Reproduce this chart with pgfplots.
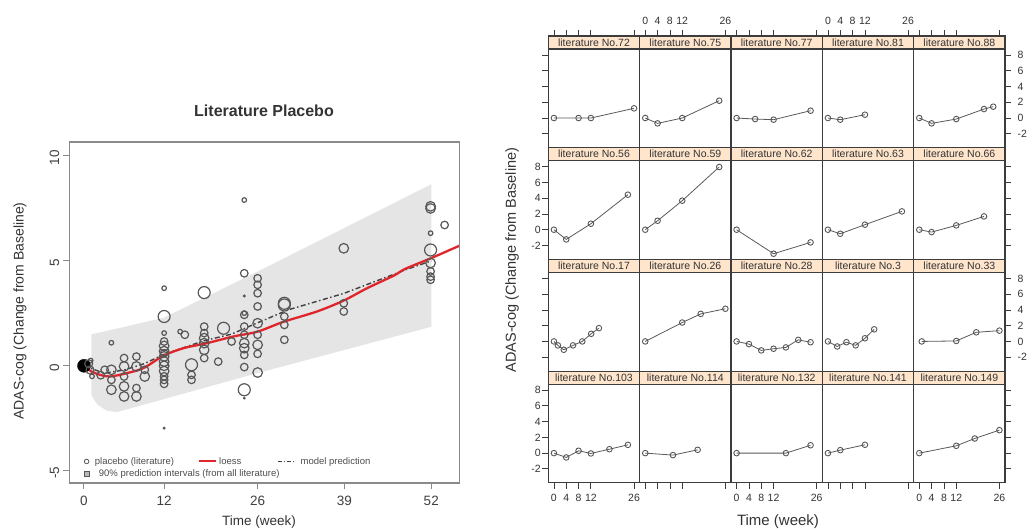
\documentclass[border=0pt]{standalone}
\usepackage{pgfplots}
\pgfplotsset{compat=1.18}
\usepackage{fontspec}
\setmainfont{Liberation Sans}
\definecolor{bandgray}{HTML}{E5E5E5}
\definecolor{ptgray}{HTML}{575757}
\definecolor{loessred}{HTML}{E0252B}
\definecolor{stripbg}{HTML}{FFE5CC}
\definecolor{framegray}{HTML}{8A8A8A}
\definecolor{panelframe}{HTML}{3C3C3C}

\pgfplotsset{
  panel/.style={
    scale only axis, anchor=south west, width=91.34pt, height=111.7pt,
    xmin=-1.82, xmax=27.82, ymin=-3.77, ymax=10.42,
    axis on top,
    xtick={0,4,8,12,26}, ytick={-2,0,2,4,6,8},
    tick align=outside, major tick length=6pt,
    axis line style={panelframe, line width=1.2pt},
    tick style={panelframe, line width=0.8pt},
    ticklabel style={font=\fontsize{10.5}{12}\selectfont, text=black!80, inner sep=1.5pt},
    /pgf/number format/assume math mode=true,
  },
  xt/.style={xtick pos=right, xticklabel pos=right, xticklabel style={yshift=4pt}},
  xtn/.style={xtick pos=right, xticklabel pos=right, xticklabel style={opacity=0}},
  xb/.style={xtick pos=left, xticklabel pos=left, xticklabel style={yshift=-4pt}},
  xbn/.style={xtick pos=left, xticklabel pos=left, xticklabel style={opacity=0}},
  xnone/.style={xtick=\empty},
  yl/.style={ytick pos=left, yticklabel pos=left},
  yln/.style={ytick pos=left, yticklabel pos=left, yticklabel style={opacity=0}},
  yr/.style={ytick pos=right, yticklabel pos=right, yticklabel style={xshift=5pt}},
  yrn/.style={ytick pos=right, yticklabel pos=right, yticklabel style={opacity=0}},
  ynone/.style={ytick=\empty},
}
\newcommand{\litpanel}[4]{%
\begin{axis}[panel, at={(#1)}, #2]
\fill[stripbg] (axis cs:-1.82,8.77) rectangle (axis cs:27.82,10.42);
\draw[panelframe, line width=1.1pt] (axis cs:-1.82,8.77) -- (axis cs:27.82,8.77);
\node[font=\fontsize{10.5}{12}\selectfont, text=black!80] at (axis cs:13,9.6) {#3};
\addplot[black!65, line width=0.8pt, mark=o, mark size=2.8pt, mark options={ptgray, line width=0.9pt, solid}] coordinates {#4};
\end{axis}}

\begin{document}
\begin{tikzpicture}[x=1pt,y=1pt]
\path[use as bounding box] (0pt,0pt) rectangle (1032pt,531pt);

% ---------------- left panel ----------------
\begin{axis}[
  at={(69.3pt,48.3pt)}, anchor=south west, scale only axis, width=390pt, height=341pt,
  xmin=-2.2, xmax=56.2, ymin=-5.57, ymax=10.68,
  axis on top,
  axis line style={framegray, line width=1.6pt},
  tick pos=left, tick align=outside, major tick length=6.5pt,
  tick style={framegray, line width=1pt},
  xtick={0,12,26,39,52}, ytick={-5,0,5,10},
  ticklabel style={font=\fontsize{13.5}{15}\selectfont, text=black!75},
  xticklabel style={yshift=-3pt},
  yticklabel style={rotate=90, anchor=south, xshift=-2pt},
  /pgf/number format/assume math mode=true,
  legend columns=3,
  legend cell align=left,
  legend style={draw=none, fill=none, at={(0.038,0.081)}, anchor=north west,
     font=\fontsize{9.5}{11}\selectfont, text=black!70, inner sep=0pt, row sep=0pt,
     /tikz/column 2/.style={column sep=22pt}, /tikz/column 4/.style={column sep=34pt}},
]
% prediction band
\addplot[fill=bandgray, draw=none, forget plot] coordinates {
(1.1,1.5) (6,1.85) (12,2.3) (25.6,4.43) (52,8.65) (52,1.86) (25.6,-0.38) (5,-2.2) (3.5,-2.15) (2,-1.85) (1.1,-1.4)} -- cycle;
% small circles
\addplot[only marks, mark=o, mark size=2.3pt, ptgray, line width=1.2pt, forget plot] coordinates {
(4.1,1.1) (12,3.7) (12,1.56) (14.4,1.63) (24,7.9) (51.9,6.32) (1.2,-0.5) (1,0.25) (24,2.51)};
% medium circles
\addplot[only marks, mark=o, mark size=3.8pt, ptgray, line width=1.2pt, forget plot] coordinates {
(3.1,-0.19) (2.5,-0.45) (4.1,-0.67) (6,0.37) (6,-0.51) (7.85,0.44) (7.85,-1.06) (9.1,-0.19)
(12,1.16) (12,-0.5) (12,-0.67) (12,-0.86) (12,0.6) (15.1,1.48) (16.1,-0.43) (16.1,-0.67)
(18,1.87) (18,1.56) (18,0.37) (20.1,0.2) (22.1,1.16) (24,4.41) (24,2.43) (24,1.87) (24,1.48)
(24,0.52) (24,-0.06) (26,3.46) (26,2.83) (26,1.48) (26,0.57) (30,2.35) (30,1.24) (30,1.95)
(38.9,2.98) (38.9,2.59) (51.9,4.5) (51.9,4.25) (51.9,4.1) (54,6.71) (26,3.86) (26,4.17)};
% large circles
\addplot[only marks, mark=o, mark size=4.8pt, ptgray, line width=1.2pt, forget plot] coordinates {
(4.1,-0.19) (4.1,-1.14) (6,-0.03) (6,-0.98) (6,-1.46) (7.85,-0.03) (7.85,-1.46) (9.1,-0.51)
(12,0.95) (12,0.7) (12,0.45) (12,0.2) (12,0) (12,-0.25) (18,1.32) (18,1.08) (18,0.76)
(24,1.08) (24,0.84) (26,1.0) (26,-0.32) (38.9,5.6) (51.9,7.5) (51.9,7.6) (51.9,4.9) (26,2.03)};
% extra large circles
\addplot[only marks, mark=o, mark size=6pt, ptgray, line width=1.2pt, forget plot] coordinates {
(12,2.35) (16.1,0.05) (18,3.49) (20.9,1.79) (24,-1.14) (30,2.98) (51.9,5.52) (30,2.9)};
% tiny dots
\addplot[only marks, mark=*, mark size=1.3pt, ptgray, forget plot] coordinates {
(12,-2.97) (24,3.33) (24,-1.54)};
% baseline blob
\addplot[only marks, mark=*, mark size=6.5pt, black, forget plot] coordinates {(0,0)};
\addplot[only marks, mark=o, mark size=4pt, ptgray, line width=1.2pt, forget plot] coordinates {(0.7,0.1) (0.9,-0.2)};
% model prediction
\addplot[black!75, dash pattern=on 5pt off 2.5pt on 1.5pt off 2.5pt, line width=1.4pt, forget plot] coordinates {
(0,0) (3,-0.35) (6,-0.2) (9,0.1) (12,0.55) (18,1.2) (22,1.5) (26,2.05) (30.6,2.67) (38.9,3.45) (48.1,4.57) (52,5.0)};
% loess
\addplot[loessred, line width=2.3pt, smooth, forget plot] coordinates {
(0,0) (1,-0.25) (2.4,-0.43) (3.9,-0.51) (6.4,-0.35) (8.9,-0.11) (11.9,0.48) (14.9,0.84) (18.4,1.08)
(22.4,1.4) (26,1.63) (29.9,2.1) (34.9,2.59) (38.9,3.11) (42.4,3.7) (46.4,4.3) (48.1,4.62) (51.9,5.12) (56.2,5.72)};
% legend
\addlegendimage{only marks, mark=o, mark size=2.3pt, ptgray, line width=0.8pt}
\addlegendentry{\hspace{4pt}placebo (literature)}
\addlegendimage{loessred, line width=2pt}
\addlegendentry{loess}
\addlegendimage{black!75, dash pattern=on 4pt off 2pt on 1.2pt off 2pt, line width=1.2pt}
\addlegendentry{\hspace{3pt}model prediction}
\addlegendimage{only marks, mark=square*, mark size=2.2pt, mark options={fill=gray!55, draw=gray!70!black}}
\addlegendentry{\makebox[0pt][l]{\hspace{8pt}90\% prediction intervals (from all literature)}}
\end{axis}

\node[anchor=base, font=\bfseries\fontsize{16}{18}\selectfont, text=black!80] at (264pt,414pt) {Literature Placebo};
\node[anchor=base, font=\fontsize{13.5}{15}\selectfont, text=black!80] at (259pt,6pt) {Time (week)};
\node[rotate=90, font=\fontsize{14}{16}\selectfont, text=black!80] at (20pt,220pt) {ADAS-cog (Change from Baseline)};

% ---------------- right lattice ----------------
% row 1
\litpanel{548.3pt,383.3pt}{xtn,yln}{literature No.72}{(0,0) (8,0) (12,0) (26,1.23)}
\litpanel{639.64pt,383.3pt}{xt,ynone}{literature No.75}{(0,0) (4,-0.68) (12,0) (24,2.2)}
\litpanel{730.98pt,383.3pt}{xtn,ynone}{literature No.77}{(0,0) (6,-0.13) (12,-0.21) (24,0.93)}
\litpanel{822.32pt,383.3pt}{xt,ynone}{literature No.81}{(0,0) (4,-0.21) (12,0.42)}
\litpanel{913.66pt,383.3pt}{xtn,yr}{literature No.88}{(0,0) (4,-0.68) (12,-0.13) (21,1.14) (24,1.44)}
% row 2
\litpanel{548.3pt,271.6pt}{xnone,yl}{literature No.56}{(0,0) (4,-1.23) (12,0.76) (24,4.45)}
\litpanel{639.64pt,271.6pt}{xnone,ynone}{literature No.59}{(0,0) (4,1.14) (12,3.69) (24,7.97)}
\litpanel{730.98pt,271.6pt}{xnone,ynone}{literature No.62}{(0,0) (12,-3.05) (24,-1.61)}
\litpanel{822.32pt,271.6pt}{xnone,ynone}{literature No.63}{(0,0) (4,-0.51) (12,0.64) (24,2.33)}
\litpanel{913.66pt,271.6pt}{xnone,yrn}{literature No.66}{(0,0) (4,-0.3) (12,0.55) (21,1.69)}
% row 3
\litpanel{548.3pt,159.9pt}{xnone,yln}{literature No.17}{(0,0) (1.3,-0.51) (3.2,-1.06) (6.2,-0.5) (9.2,0) (12.1,0.97) (14.6,1.69)}
\litpanel{639.64pt,159.9pt}{xnone,ynone}{literature No.26}{(0,0) (12,2.4) (18,3.5) (26,4.15)}
\litpanel{730.98pt,159.9pt}{xnone,ynone}{literature No.28}{(0,0) (4,-0.34) (8,-1.14) (12,-0.93) (16,-0.76) (20,0.2) (24,-0.1)}
\litpanel{822.32pt,159.9pt}{xnone,ynone}{literature No.3}{(0,0) (3,-0.64) (6,-0.1) (9,-0.5) (12,0.4) (15,1.54)}
\litpanel{913.66pt,159.9pt}{xnone,yr}{literature No.33}{(0.8,0) (12,0.06) (18.5,1.16) (26,1.37)}
% row 4
\litpanel{548.3pt,48.2pt}{xb,yl}{literature No.103}{(0,0) (4,-0.55) (8,0.3) (12,-0.04) (18,0.5) (24,1.05)}
\litpanel{639.64pt,48.2pt}{xbn,ynone}{literature No.114}{(0,0) (9,-0.25) (17,0.42)}
\litpanel{730.98pt,48.2pt}{xb,ynone}{literature No.132}{(0,0) (16,0) (24,1.0)}
\litpanel{822.32pt,48.2pt}{xbn,ynone}{literature No.141}{(0,0) (4,0.38) (12,1.06)}
\litpanel{913.66pt,48.2pt}{xb,yrn}{literature No.149}{(0,0) (12,0.93) (18,1.86) (26,2.92)}

\node[anchor=base, font=\fontsize{15}{17}\selectfont, text=black!80] at (778pt,6pt) {Time (week)};
\node[rotate=90, font=\fontsize{14.5}{16}\selectfont, text=black!80] at (512pt,271pt) {ADAS-cog (Change from Baseline)};
\end{tikzpicture}
\end{document}
